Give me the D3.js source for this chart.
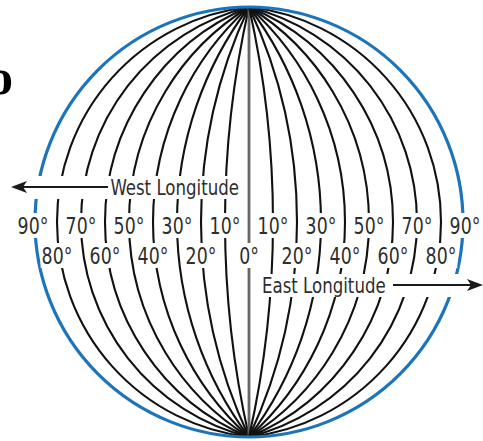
<!DOCTYPE html>
<html lang="en">
<head>
<meta charset="utf-8">
<title>Longitude Globe</title>
<script src="https://cdn.jsdelivr.net/npm/d3@7"></script>
<style>
  body { margin: 0; background: #fff; }
  svg { display: block; }
  .lbl { font-family: "Liberation Sans Narrow", "DejaVu Sans Condensed", "Roboto Condensed", sans-serif; font-stretch: condensed; fill: #2e2e2e; }
</style>
</head>
<body>
<div id="chart"></div>
<script>
// meridians drawn every 10 degrees
const longitudes = [-90, -80, -70, -60, -50, -40, -30, -20, -10, 0, 10, 20, 30, 40, 50, 60, 70, 80, 90];
// labels on the upper and lower row
const upperLabels = [-90, -70, -50, -30, -10, 10, 30, 50, 70, 90];
const lowerLabels = [-80, -60, -40, -20, 0, 20, 40, 60, 80];
const westTitle = "West Longitude";
const eastTitle = "East Longitude";

const w = 483, h = 441;
const cx = 249, cy = 222, R = 215;
const squeeze = 0.84;

const xScale = d3.scaleLinear().domain([-90, 90]).range([cx - 216, cx + 216]);
const yScale = d3.scaleLinear().domain([90, -90]).range([cy - R, cy + R]);

const svg = d3.select("#chart").append("svg")
  .attr("width", w)
  .attr("height", h);

// globular meridian: circular arc through both poles and the equator point
function meridianPath(lon) {
  const a = xScale(lon) - cx;
  const top = yScale(90), bot = yScale(-90);
  if (Math.abs(a) < 0.01) return `M${cx},${top}L${cx},${bot}`;
  const ry = (bot - top) / 2;
  const aa = Math.abs(a);
  const r = (aa * aa + ry * ry) / (2 * aa);
  const sweep = a > 0 ? 1 : 0;
  return `M${cx},${top}A${r},${r} 0 0 ${sweep} ${cx},${bot}`;
}

function narrow(sel, x) {
  sel.attr("transform", `translate(${x},0) scale(${squeeze},1) translate(${-x},0)`);
}

svg.append("g")
  .selectAll("path")
  .data(longitudes.filter(d => Math.abs(d) < 90))
  .enter()
  .append("path")
    .attr("d", d => meridianPath(d))
    .attr("fill", "none")
    .attr("stroke", d => d === 0 ? "#666" : "#111")
    .attr("stroke-width", d => d === 0 ? 2.8 : 2.1);

svg.append("g")
  .selectAll("path")
  .data(longitudes.filter(d => Math.abs(d) === 90))
  .enter()
  .append("path")
    .attr("d", d => meridianPath(d))
    .attr("fill", "none")
    .attr("stroke", "#1c74bb")
    .attr("stroke-width", 3.2);

// degree labels with white knock-out behind them
function labelRow(data, baseline) {
  const g = svg.append("g");
  const items = g.selectAll("g")
    .data(data)
    .enter()
    .append("g");
  items.append("text")
    .attr("class", "lbl")
    .attr("x", d => xScale(d))
    .attr("y", baseline)
    .attr("text-anchor", "middle")
    .attr("font-size", 23)
    .text(d => Math.abs(d) + "\u00b0");
  items.each(function(d) {
    const t = d3.select(this).select("text");
    const b = t.node().getBBox();
    const bw = b.width * squeeze;
    narrow(t, xScale(d));
    d3.select(this).insert("rect", "text")
      .attr("x", xScale(d) - bw / 2 - 1)
      .attr("y", baseline - 21)
      .attr("width", bw + 2)
      .attr("height", 25)
      .attr("fill", "#fff");
  });
}
labelRow(upperLabels, 234);
labelRow(lowerLabels, 264);

// direction titles with arrows
function arrowTitle(text, textX, anchor, y, x1, x2, bandX, bandW) {
  const g = svg.append("g");
  g.append("rect")
    .attr("x", bandX).attr("y", y - 11)
    .attr("width", bandW).attr("height", 23)
    .attr("fill", "#fff");
  const t = g.append("text")
    .attr("class", "lbl")
    .attr("x", textX)
    .attr("y", y + 8)
    .attr("text-anchor", anchor)
    .attr("font-size", 22)
    .text(text);
  narrow(t, textX);
  const dir = x2 > x1 ? 1 : -1;
  g.append("line")
    .attr("x1", x1).attr("y1", y)
    .attr("x2", x2 - dir * 10).attr("y2", y)
    .attr("stroke", "#1a1a1a")
    .attr("stroke-width", 2);
  g.append("path")
    .attr("d", `M${x2},${y}L${x2 - dir * 16},${y - 6}L${x2 - dir * 12},${y}L${x2 - dir * 16},${y + 6}Z`)
    .attr("fill", "#1a1a1a");
}
arrowTitle(westTitle, 239, "end", 187, 108, 11, 6, 236);
arrowTitle(eastTitle, 262, "start", 285, 393, 483, 257, 226);

// cropped bold letter at the top left
svg.append("text")
  .attr("x", 13)
  .attr("y", 94)
  .attr("text-anchor", "end")
  .attr("font-family", "Liberation Serif, serif")
  .attr("font-weight", "bold")
  .attr("font-size", 50)
  .attr("fill", "#000")
  .text("o");
</script>
</body>
</html>
